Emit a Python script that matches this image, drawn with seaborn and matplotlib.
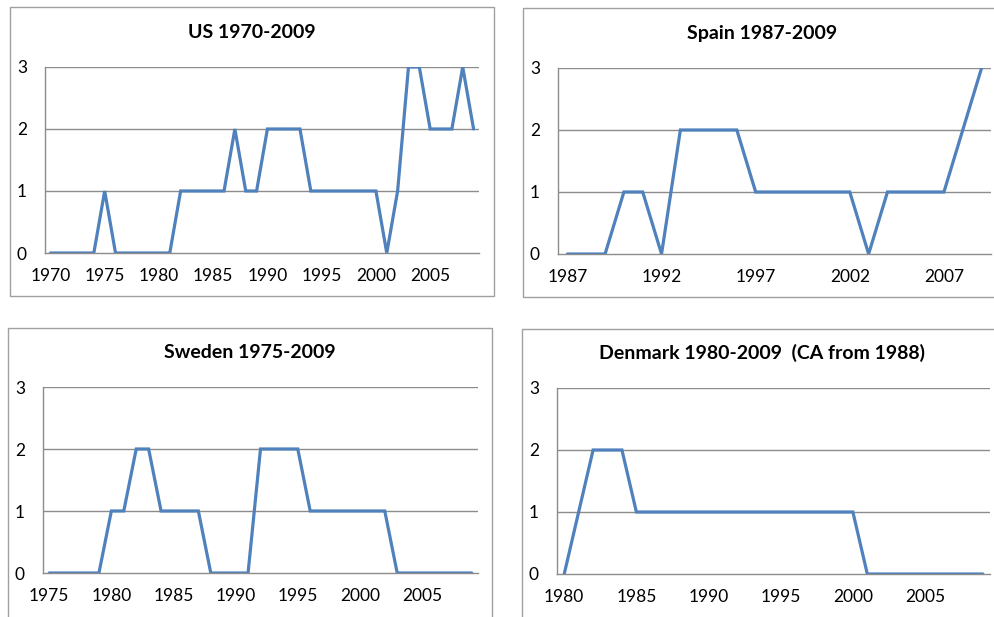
import matplotlib
matplotlib.use("Agg")
import matplotlib.pyplot as plt
import seaborn as sns
import pandas as pd
from matplotlib.patches import Rectangle

# ---- data ----
us_years = list(range(1970, 2010))
us_values = [0, 0, 0, 0, 0, 1, 0, 0, 0, 0, 0, 0, 1, 1, 1, 1, 1, 2, 1, 1,
             2, 2, 2, 2, 1, 1, 1, 1, 1, 1, 1, 0, 1, 3, 3, 2, 2, 2, 3, 2]
us_ticks = [1970, 1975, 1980, 1985, 1990, 1995, 2000, 2005]

spain_years = list(range(1987, 2010))
spain_values = [0, 0, 0, 1, 1, 0, 2, 2, 2, 2, 1, 1, 1, 1, 1, 1, 0, 1, 1, 1, 1, 2, 3]
spain_ticks = [1987, 1992, 1997, 2002, 2007]

sweden_years = list(range(1975, 2010))
sweden_values = [0, 0, 0, 0, 0, 1, 1, 2, 2, 1, 1, 1, 1, 0, 0, 0, 0, 2, 2, 2,
                 2, 1, 1, 1, 1, 1, 1, 1, 0, 0, 0, 0, 0, 0, 0]
sweden_ticks = [1975, 1980, 1985, 1990, 1995, 2000, 2005]

denmark_years = list(range(1980, 2010))
denmark_values = [0, 1, 2, 2, 2, 1, 1, 1, 1, 1, 1, 1, 1, 1, 1, 1, 1, 1, 1, 1,
                  1, 0, 0, 0, 0, 0, 0, 0, 0, 0]
denmark_ticks = [1980, 1985, 1990, 1995, 2000, 2005]

titles = ["US 1970-2009", "Spain 1987-2009", "Sweden 1975-2009",
          "Denmark 1980-2009  (CA from 1988)"]
y_ticks = [0, 1, 2, 3]

# ---- style ----
sns.set_theme(style="white")
plt.rcParams["font.family"] = ["Lato", "DejaVu Sans"]

W, H = 994, 617
fig = plt.figure(figsize=(W / 100, H / 100), dpi=100)

LINE = "#4F81BD"
GRID = "#8C8C8C"
BOX = "#A0A0A0"

def px_axes(left, top, right, bottom):
    return fig.add_axes([left / W, 1 - bottom / H, (right - left) / W, (bottom - top) / H])

def box(left, top, right, bottom):
    fig.patches.append(Rectangle((left / W, 1 - bottom / H), (right - left) / W,
                                 (bottom - top) / H, transform=fig.transFigure,
                                 fill=False, edgecolor=BOX, linewidth=1.0, zorder=0))

panels = [
    (us_years, us_values, us_ticks, titles[0], (45, 67, 479, 253), (10, 7, 494, 296), (252, 32)),
    (spain_years, spain_values, spain_ticks, titles[1], (558, 68, 991, 254), (523, 8, 1000, 297), (762, 33)),
    (sweden_years, sweden_values, sweden_ticks, titles[2], (43, 387, 478, 573), (8, 328, 492, 630), (250, 352)),
    (denmark_years, denmark_values, denmark_ticks, titles[3], (557, 388, 990, 574), (522, 329, 1000, 630), (762, 353)),
]

for years, values, ticks, title, ax_px, box_px, title_px in panels:
    box(*box_px)
    ax = px_axes(*ax_px)
    df = pd.DataFrame({"idx": range(len(years)), "value": values})
    sns.lineplot(data=df, x="idx", y="value", ax=ax, color=LINE, linewidth=2.3,
                 solid_joinstyle="miter")
    ax.set_xlim(-0.5, len(years) - 0.5)
    ax.set_ylim(0, 3)
    ax.set_yticks(y_ticks)
    ax.set_yticklabels([str(v) for v in y_ticks])
    ax.set_xticks([years.index(t) for t in ticks])
    ax.set_xticklabels([str(t) for t in ticks])
    for yv in y_ticks[1:]:
        ax.axhline(yv, color=GRID, linewidth=1.0, zorder=0)
    ax.set_xlabel("")
    ax.set_ylabel("")
    for s in ["top", "right"]:
        ax.spines[s].set_visible(False)
    for s in ["left", "bottom"]:
        ax.spines[s].set_color(GRID)
        ax.spines[s].set_linewidth(1.0)
    ax.tick_params(axis="both", length=0, labelsize=12.5, colors="black")
    ax.tick_params(axis="x", pad=11)
    ax.tick_params(axis="y", pad=13)
    ax.patch.set_alpha(0)
    fig.text(title_px[0] / W, 1 - title_px[1] / H, title, ha="center", va="center",
             fontsize=14, fontweight="bold", color="black")

fig.savefig("out.png", dpi=100)
